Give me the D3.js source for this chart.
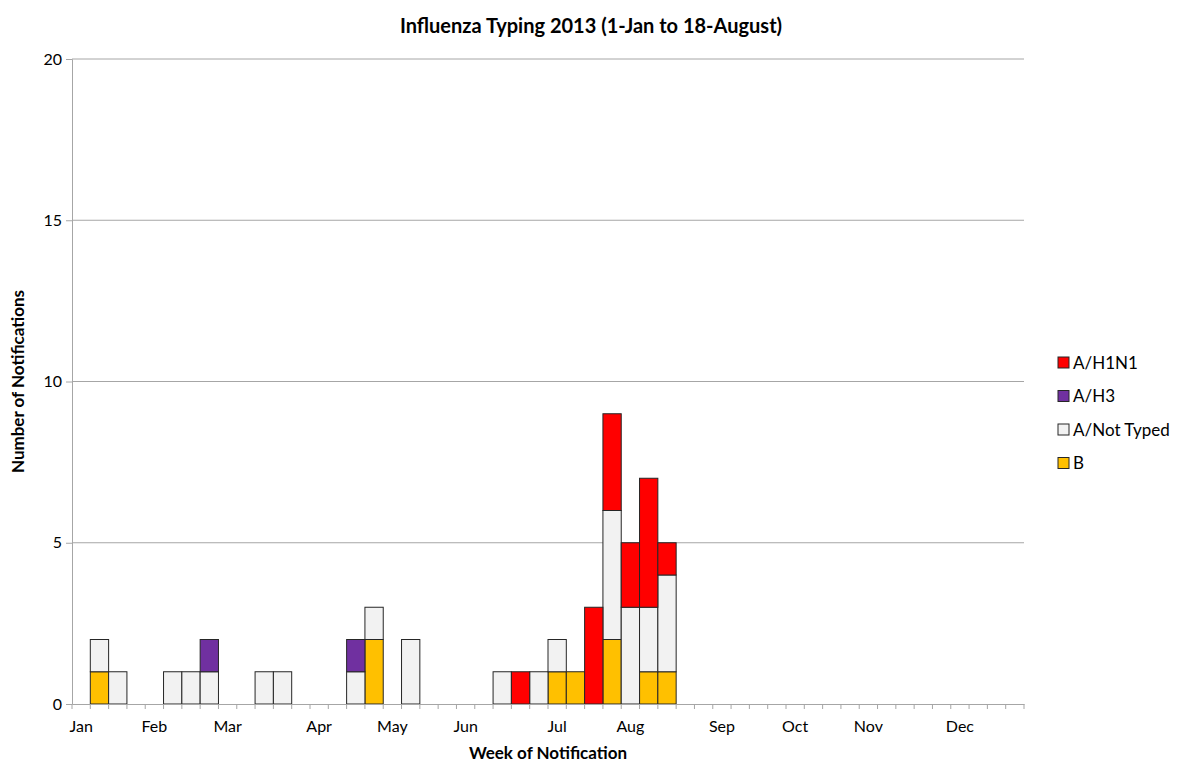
<html>
<head>
<meta charset="utf-8">
<script src="https://d3js.org/d3.v7.min.js"></script>
<style>
  body { margin: 0; background: #fff; }
  text { font-family: Lato, "Open Sans", sans-serif; fill: #000; }
</style>
</head>
<body>
<svg width="1182" height="763"></svg>
<script>
// 52 weeks of notification
var weeks = d3.range(1, 53);
var monthLabels = {1: "Jan", 5: "Feb", 9: "Mar", 14: "Apr", 18: "May", 22: "Jun",
                   27: "Jul", 31: "Aug", 36: "Sep", 40: "Oct", 44: "Nov", 49: "Dec"};

var seriesNames = ["B", "A/Not Typed", "A/H3", "A/H1N1"];
var seriesColors = ["#FFC000", "#F2F2F2", "#7030A0", "#FF0000"];

// counts by week (index 0 = week 1)
var valsB      = [0,1,0,0,0,0,0,0,0,0,0,0,0,0,0,0,2,0,0,0,0,0,0,0,0,0,1,1,0,2,0,1,1,0,0,0,0,0,0,0,0,0,0,0,0,0,0,0,0,0,0,0];
var valsNotTyp = [0,1,1,0,0,1,1,1,0,0,1,1,0,0,0,1,1,0,2,0,0,0,0,1,0,1,1,0,0,4,3,2,3,0,0,0,0,0,0,0,0,0,0,0,0,0,0,0,0,0,0,0];
var valsH3     = [0,0,0,0,0,0,0,1,0,0,0,0,0,0,0,1,0,0,0,0,0,0,0,0,0,0,0,0,0,0,0,0,0,0,0,0,0,0,0,0,0,0,0,0,0,0,0,0,0,0,0,0];
var valsH1N1   = [0,0,0,0,0,0,0,0,0,0,0,0,0,0,0,0,0,0,0,0,0,0,0,0,1,0,0,0,3,3,2,4,1,0,0,0,0,0,0,0,0,0,0,0,0,0,0,0,0,0,0,0];

var yTicks = [0, 5, 10, 15, 20];

var table = weeks.map(function(w, i) {
  return {week: w, "B": valsB[i], "A/Not Typed": valsNotTyp[i], "A/H3": valsH3[i], "A/H1N1": valsH1N1[i]};
});

var svg = d3.select("svg");
var pLeft = 72, pRight = 1024, pTop = 59, pBottom = 704;

var x = d3.scaleBand().domain(weeks).range([pLeft, pRight]).padding(0);
var y = d3.scaleLinear().domain([0, 20]).range([pBottom, pTop]);
var color = d3.scaleOrdinal().domain(seriesNames).range(seriesColors);

// gridlines
svg.append("g")
  .selectAll("line")
  .data(yTicks.filter(function(d) { return d > 0; }))
  .enter().append("line")
  .attr("x1", pLeft).attr("x2", pRight)
  .attr("y1", function(d) { return y(d); })
  .attr("y2", function(d) { return y(d); })
  .attr("stroke", "#a6a6a6").attr("stroke-width", 1);

// bars
var stacked = d3.stack().keys(seriesNames)(table);
svg.append("g")
  .selectAll("g")
  .data(stacked)
  .enter().append("g")
  .attr("fill", function(d) { return color(d.key); })
  .selectAll("rect")
  .data(function(d) { return d.filter(function(p) { return p[1] > p[0]; }); })
  .enter().append("rect")
  .attr("x", function(d) { return x(d.data.week); })
  .attr("width", x.bandwidth())
  .attr("y", function(d) { return y(d[1]); })
  .attr("height", function(d) { return y(d[0]) - y(d[1]); })
  .attr("stroke", "#262626").attr("stroke-width", 1);

// y axis
var yAxis = svg.append("g")
  .attr("transform", "translate(" + pLeft + ",0)")
  .call(d3.axisLeft(y).tickValues(yTicks).tickSize(6).tickPadding(4));
yAxis.select(".domain").attr("stroke", "#a6a6a6");
yAxis.selectAll(".tick line").attr("stroke", "#a6a6a6");
yAxis.selectAll(".tick text").style("font-size", "16px");

// x axis: ticks between categories, month labels
var xAxis = svg.append("g")
  .attr("transform", "translate(0," + pBottom + ")")
  .call(d3.axisBottom(x).tickSize(0).tickPadding(17)
    .tickFormat(function(w) { return monthLabels[w] || ""; }));
xAxis.select(".domain").attr("stroke", "#a6a6a6");
xAxis.selectAll(".tick text").style("font-size", "16px");
xAxis.append("g")
  .selectAll("line")
  .data(weeks.concat([53]))
  .enter().append("line")
  .attr("x1", function(w) { return w <= 52 ? x(w) : pRight; })
  .attr("x2", function(w) { return w <= 52 ? x(w) : pRight; })
  .attr("y1", 0).attr("y2", 5)
  .attr("stroke", "#a6a6a6");

// titles
svg.append("text")
  .attr("x", 591).attr("y", 33)
  .attr("text-anchor", "middle")
  .style("font-size", "20px").style("font-weight", "bold")
  .text("Influenza Typing 2013 (1-Jan to 18-August)");

svg.append("text")
  .attr("x", 548).attr("y", 759)
  .attr("text-anchor", "middle")
  .style("font-size", "17px").style("font-weight", "bold")
  .text("Week of Notification");

svg.append("text")
  .attr("transform", "translate(24," + ((pTop + pBottom) / 2) + ") rotate(-90)")
  .attr("text-anchor", "middle")
  .style("font-size", "17px").style("font-weight", "bold")
  .text("Number of Notifications");

// legend (top series first)
var legend = svg.append("g")
  .selectAll("g")
  .data(seriesNames.slice().reverse())
  .enter().append("g")
  .attr("transform", function(d, i) { return "translate(1058," + (357 + i * 33.5) + ")"; });
legend.append("rect")
  .attr("width", 11).attr("height", 11)
  .attr("fill", function(d) { return color(d); })
  .attr("stroke", "#262626").attr("stroke-width", 1);
legend.append("text")
  .attr("x", 15).attr("y", 11.5)
  .style("font-size", "17px")
  .text(function(d) { return d; });
</script>
</body>
</html>
